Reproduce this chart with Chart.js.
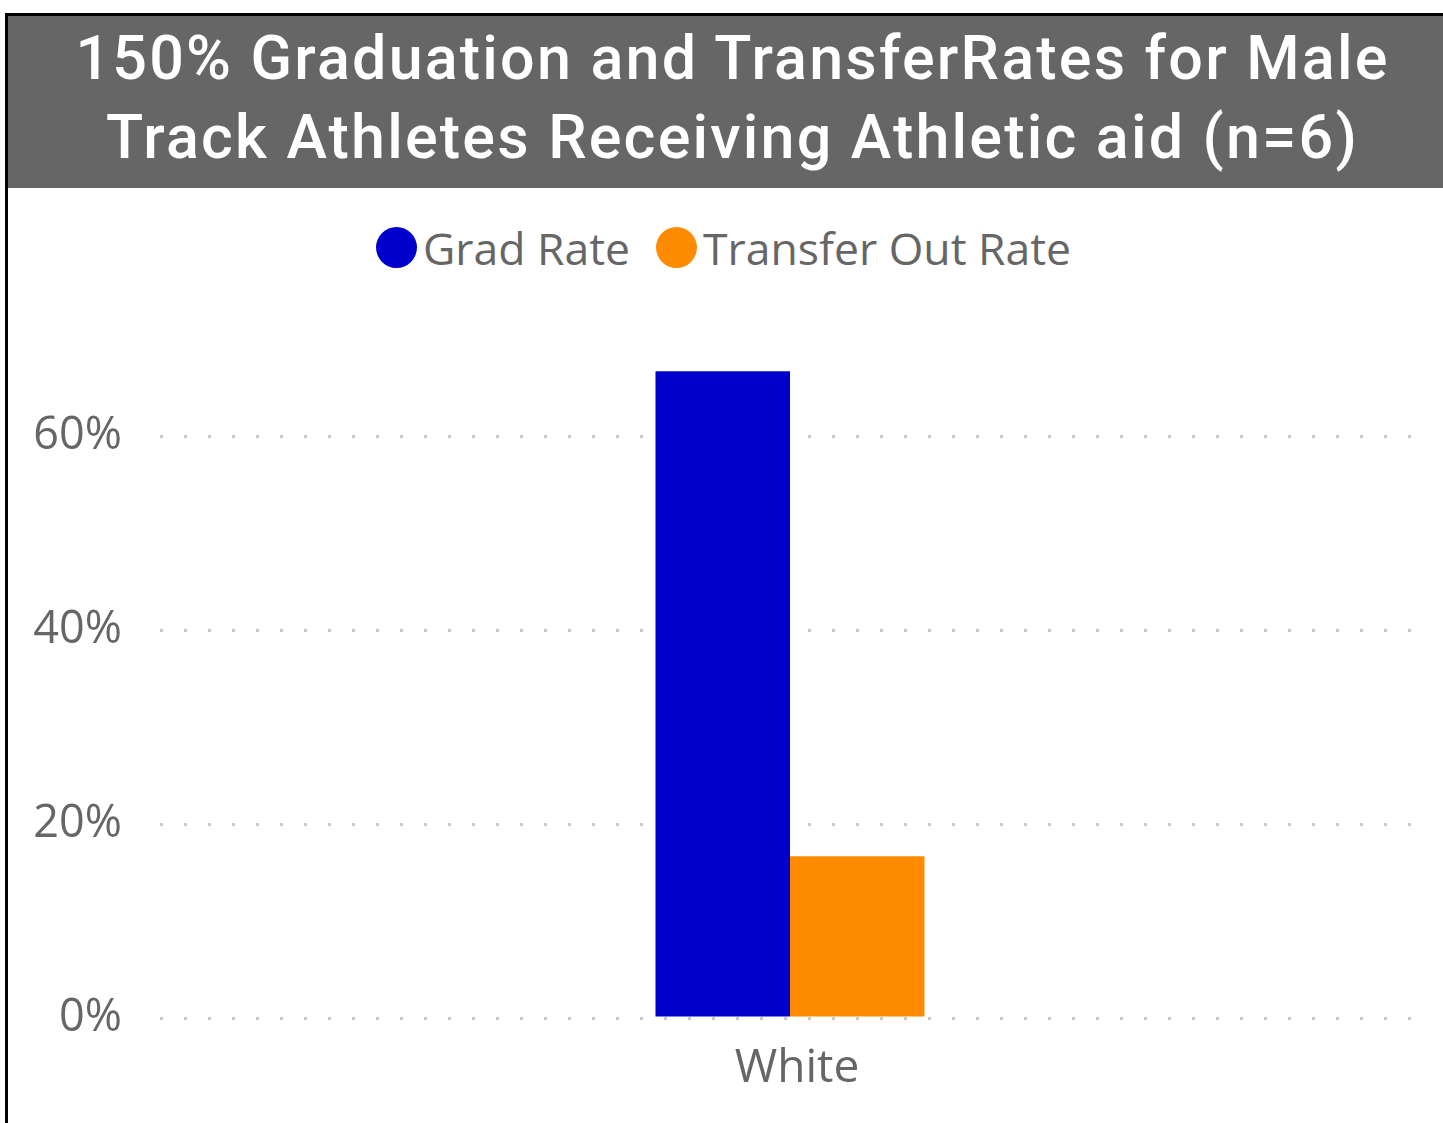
<!DOCTYPE html>
<html>
<head>
<meta charset="utf-8">
<script src="https://cdn.jsdelivr.net/npm/chart.js@4"></script>
<style>
  body { margin: 0; background: #fff; width: 1443px; height: 1123px; overflow: hidden; position: relative; }
  #frame { position: absolute; left: 5px; top: 13px; right: 0; bottom: 0; border-left: 3px solid #000; border-top: 3px solid #000; }
  #title { position: absolute; left: 0; top: 0; right: 0; height: 172px; background: #666666; color: #fff;
           font-family: Roboto, sans-serif; font-weight: 500; font-size: 61px; line-height: 79px; text-align: center;
           letter-spacing: 2.2px; padding-top: 3px; box-sizing: border-box; padding-left: 14px; }
  #legend { position: absolute; top: 217px; left: 376px; display: flex; align-items: center;
            font-family: "Open Sans", sans-serif; font-size: 44.5px; color: #666; white-space: nowrap; }
  .dot { width: 41px; height: 41px; border-radius: 50%; display: inline-block; margin-right: 6px; }
  .item { display: flex; align-items: center; margin-right: 26px; }
  #wrap { position: absolute; left: 8px; top: 300px; width: 1435px; height: 823px; }
</style>
</head>
<body>
<div id="frame">
  <div id="title">150% Graduation and TransferRates for Male<br>Track Athletes Receiving Athletic aid (n=6)</div>
</div>
<div id="legend"></div>
<div id="wrap"><canvas id="chart"></canvas></div>
<script>
const categories = ['White'];
const seriesNames = ['Grad Rate', 'Transfer Out Rate'];
const gradRate = [66.67];
const transferOutRate = [16.67];
const yTicks = [0, 20, 40, 60];
const colors = ['#0000CC', '#FF8C00'];

// legend (html)
const legend = document.getElementById('legend');
seriesNames.forEach((name, i) => {
    const item = document.createElement('div');
    item.className = 'item';
    item.innerHTML = '<span class="dot" style="background:' + colors[i] + '"></span>' + name;
    legend.appendChild(item);
});

const ctx = document.getElementById('chart').getContext('2d');
new Chart(ctx, {
    type: 'bar',
    data: {
        labels: categories,
        datasets: [
            { label: seriesNames[0], data: gradRate, backgroundColor: colors[0], borderWidth: 0 },
            { label: seriesNames[1], data: transferOutRate, backgroundColor: colors[1], borderWidth: 0 }
        ]
    },
    options: {
        responsive: true,
        maintainAspectRatio: false,
        animation: false,
        datasets: { bar: { categoryPercentage: 0.2135, barPercentage: 1 } },
        layout: { padding: { top: 39, right: 23, left: 0, bottom: 0 } },
        plugins: {
            legend: { display: false },
            tooltip: { enabled: false }
        },
        scales: {
            x: {
                grid: { display: false },
                border: { display: false },
                ticks: {
                    color: '#666',
                    padding: 15,
                    labelOffset: 7,
                    font: { family: 'Open Sans', size: 46 }
                },
                afterFit: function(scale) { scale.height = 105; scale.paddingLeft = 0; scale.paddingRight = 0; }
            },
            y: {
                min: 0,
                max: 70,
                afterBuildTicks: function(scale) {
                    scale.ticks = yTicks.map(v => ({ value: v }));
                },
                grid: {
                    color: '#c8c8c8',
                    lineWidth: 3,
                    drawTicks: false
                },
                border: { display: false, dash: [3, 21] },
                ticks: {
                    color: '#666',
                    padding: 38,
                    font: { family: 'Open Sans', size: 45 },
                    callback: function(value) { return value + '%'; }
                },
                afterFit: function(scale) { scale.width = 152; scale.paddingTop = 0; scale.paddingBottom = 0; }
            }
        }
    }
});
</script>
</body>
</html>
